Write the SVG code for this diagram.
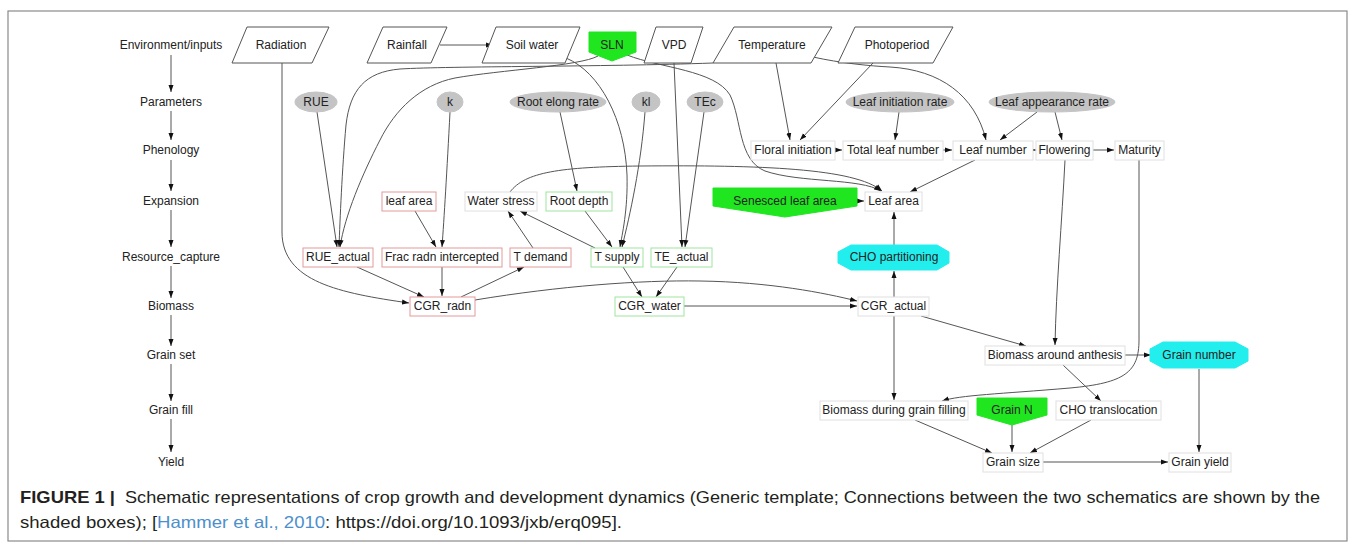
<svg xmlns="http://www.w3.org/2000/svg" width="1355" height="552" viewBox="0 0 1355 552">
<style>
text{font-family:"Liberation Sans",Arial,sans-serif}
.t{font-size:12px;fill:#222;text-anchor:middle}
.e{fill:none;stroke:#555;stroke-width:1;marker-end:url(#ah)}
.red{fill:#fff;stroke:#e39a9a;stroke-width:1}
.grn{fill:#fff;stroke:#9ee39e;stroke-width:1}
.lg{fill:#fff;stroke:#e0e0e0;stroke-width:1}
.par{fill:#fff;stroke:#555;stroke-width:1}
.ell{fill:#c4c4c4;stroke:#c4c4c4}
.gf{fill:#1fe61f;stroke:#1fe61f}
.cf{fill:#22eeee;stroke:#22eeee}
.cap{font-size:16.5px;fill:#231f20}
</style>
<defs>
<marker id="ah" markerUnits="userSpaceOnUse" markerWidth="7" markerHeight="6" refX="7" refY="3" orient="auto">
<path d="M0,0.5 L7,3 L0,5.5 z" fill="#111"/>
</marker>
</defs>
<rect x="0" y="0" width="1355" height="552" fill="#fff"/>
<rect x="8" y="11" width="1339" height="530" fill="none" stroke="#8a8a8a" stroke-width="1.2"/>

<g id="rows">
<text class="t" x="171" y="49">Environment/inputs</text>
<text class="t" x="171" y="106">Parameters</text>
<text class="t" x="171" y="154">Phenology</text>
<text class="t" x="171" y="205">Expansion</text>
<text class="t" x="171" y="261">Resource_capture</text>
<text class="t" x="171" y="310">Biomass</text>
<text class="t" x="171" y="359">Grain set</text>
<text class="t" x="171" y="414">Grain fill</text>
<text class="t" x="171" y="466">Yield</text>
</g>

<g id="connectors">
<path class="e" d="M171,55 V92"/>
<path class="e" d="M171,111 V140"/>
<path class="e" d="M171,160 V191"/>
<path class="e" d="M171,210 V247"/>
<path class="e" d="M171,266 V298"/>
<path class="e" d="M171,315 V346"/>
<path class="e" d="M171,364 V401"/>
<path class="e" d="M171,419 V452"/>

<path class="e" d="M440,45 H493"/>
<path class="e" d="M282,63 V232 C282,282 340,293 409,303"/>
<path class="e" d="M713,63 C600,67 450,66 400,69 C365,72 350,90 346,125 C342,170 340,220 339,247"/>
<path class="e" d="M598,56 C580,66 500,70 455,78 C420,85 395,110 380,140 C362,175 345,215 340,247"/>
<path class="e" d="M566,58 C600,72 625,120 627,175 C628,210 622,235 620,247"/>
<path class="e" d="M645,112 C641,165 630,215 622,247"/>
<path class="e" d="M674,63 L682,247"/>
<path class="e" d="M704,112 L685,247"/>
<path class="e" d="M627,55 C660,68 715,70 730,95 C742,120 738,160 765,171 C800,183 860,178 881,191"/>
<path class="e" d="M510,192 C525,172 560,167 640,166 C760,165 855,168 882,191"/>
<path class="e" d="M975,160 L910,192"/>
<path class="e" d="M776,63 L790,140"/>
<path class="e" d="M873,63 L800,140"/>
<path class="e" d="M813,57 C840,63 870,66 890,67 C940,70 975,95 986,140"/>
<path class="e" d="M899,112 L895,140"/>
<path class="e" d="M1037,112 L1000,140"/>
<path class="e" d="M1055,112 L1062,140"/>
<path class="e" d="M835,150 H842"/>
<path class="e" d="M943,150 H952"/>
<path class="e" d="M1030,150 H1036"/>
<path class="e" d="M1093,150 H1114"/>
<path class="e" d="M1065,160 C1062,220 1056,290 1055,345"/>
<path class="e" d="M1139,160 V340 C1139,372 1125,383 1070,388 C1000,394 960,395 942,401"/>
<path class="e" d="M317,112 L337,247"/>
<path class="e" d="M450,112 C447,170 444,220 442,247"/>
<path class="e" d="M415,211 L436,247"/>
<path class="e" d="M560,112 L577,191"/>
<path class="e" d="M533,248 L508,211"/>
<path class="e" d="M595,248 L520,211"/>
<path class="e" d="M585,211 L612,247"/>
<path class="e" d="M357,267 L424,297"/>
<path class="e" d="M442,267 V296"/>
<path class="e" d="M461,297 L524,267"/>
<path class="e" d="M475,300 C560,286 640,280 700,281 C770,282 825,293 857,301"/>
<path class="e" d="M623,267 L642,297"/>
<path class="e" d="M677,267 L656,297"/>
<path class="e" d="M684,306 H857"/>
<path class="e" d="M894,297 V271"/>
<path class="e" d="M894,245 V212"/>
<path class="e" d="M857,201 H864"/>
<path class="e" d="M921,316 L1026,346"/>
<path class="e" d="M894,316 V400"/>
<path class="e" d="M1125,355 H1151"/>
<path class="e" d="M1063,365 L1101,401"/>
<path class="e" d="M1199,369 V452"/>
<path class="e" d="M915,420 L992,453"/>
<path class="e" d="M1012,425 V452"/>
<path class="e" d="M1091,420 L1030,453"/>
<path class="e" d="M1043,462 H1168"/>
</g>

<g id="radiation"><polygon class="par" points="247,27 329,27 312,63 232,63"/><text class="t" x="281" y="49">Radiation</text></g>
<g id="rainfall"><polygon class="par" points="383,27 447,27 431,63 367,63"/><text class="t" x="407" y="49">Rainfall</text></g>
<g id="soilwater"><polygon class="par" points="496,27 580,27 565,63 482,63"/><text class="t" x="532" y="49">Soil water</text></g>
<g id="sln"><polygon class="gf" points="589,32 636,32 636,52 612,61 589,52"/><text class="t" x="612" y="49">SLN</text></g>
<g id="vpd"><polygon class="par" points="656,27 703,27 691,63 644,63"/><text class="t" x="674" y="49">VPD</text></g>
<g id="temperature"><polygon class="par" points="734,27 832,27 811,63 713,63"/><text class="t" x="772" y="49">Temperature</text></g>
<g id="photoperiod"><polygon class="par" points="855,27 953,27 933,63 838,63"/><text class="t" x="897" y="49">Photoperiod</text></g>

<g id="rue"><ellipse class="ell" cx="316" cy="102" rx="21" ry="10"/><text class="t" x="316" y="106">RUE</text></g>
<g id="k"><ellipse class="ell" cx="450" cy="102" rx="13" ry="10"/><text class="t" x="450" y="106">k</text></g>
<g id="rootelong"><ellipse class="ell" cx="558" cy="102" rx="48" ry="10"/><text class="t" x="558" y="106">Root elong rate</text></g>
<g id="kl"><ellipse class="ell" cx="646" cy="102" rx="14" ry="10"/><text class="t" x="646" y="106">kl</text></g>
<g id="tec"><ellipse class="ell" cx="705" cy="102" rx="18" ry="10"/><text class="t" x="705" y="106">TEc</text></g>
<g id="leafinit"><ellipse class="ell" cx="900" cy="102" rx="54" ry="10"/><text class="t" x="900" y="106">Leaf initiation rate</text></g>
<g id="leafapp"><ellipse class="ell" cx="1052" cy="102" rx="63" ry="10"/><text class="t" x="1052" y="106">Leaf appearance rate</text></g>

<g id="floral"><rect class="lg" x="751" y="141" width="84" height="19"/><text class="t" x="793" y="154">Floral initiation</text></g>
<g id="totalleaf"><rect class="lg" x="843" y="141" width="100" height="19"/><text class="t" x="893" y="154">Total leaf number</text></g>
<g id="leafnumber"><rect class="lg" x="953" y="141" width="80" height="19"/><text class="t" x="993" y="154">Leaf number</text></g>
<g id="flowering"><rect class="lg" x="1036" y="141" width="57" height="19"/><text class="t" x="1064.5" y="154">Flowering</text></g>
<g id="maturity"><rect class="lg" x="1115" y="141" width="49" height="19"/><text class="t" x="1139.5" y="154">Maturity</text></g>

<g id="leafarea-red"><rect class="red" x="382" y="192" width="54" height="19"/><text class="t" x="409" y="205">leaf area</text></g>
<g id="waterstress"><rect class="lg" x="465" y="192" width="72" height="19"/><text class="t" x="501" y="205">Water stress</text></g>
<g id="rootdepth"><rect class="grn" x="546" y="192" width="66" height="19"/><text class="t" x="579" y="205">Root depth</text></g>
<g id="senesced"><polygon class="gf" points="713,188 857,188 857,206 785,217 713,206"/><text class="t" x="785" y="205">Senesced leaf area</text></g>
<g id="leafarea"><rect class="lg" x="865" y="192" width="57" height="19"/><text class="t" x="893.5" y="205">Leaf area</text></g>

<g id="rueactual"><rect class="red" x="303" y="248" width="70" height="19"/><text class="t" x="338" y="261">RUE_actual</text></g>
<g id="fracradn"><rect class="red" x="382" y="248" width="120" height="19"/><text class="t" x="442" y="261">Frac radn intercepted</text></g>
<g id="tdemand"><rect class="red" x="510" y="248" width="61" height="19"/><text class="t" x="540.5" y="261">T demand</text></g>
<g id="tsupply"><rect class="grn" x="591" y="248" width="52" height="19"/><text class="t" x="617" y="261">T supply</text></g>
<g id="teactual"><rect class="grn" x="651" y="248" width="61" height="19"/><text class="t" x="681.5" y="261">TE_actual</text></g>
<g id="chopart"><polygon class="cf" points="851,245 937,245 949,252 949,263 937,270 851,270 838,263 838,252"/><text class="t" x="894" y="261">CHO partitioning</text></g>

<g id="cgrradn"><rect class="red" x="410" y="297" width="65" height="19"/><text class="t" x="442.5" y="310">CGR_radn</text></g>
<g id="cgrwater"><rect class="grn" x="615" y="297" width="69" height="19"/><text class="t" x="649.5" y="310">CGR_water</text></g>
<g id="cgractual"><rect class="lg" x="858" y="297" width="71" height="19"/><text class="t" x="893.5" y="310">CGR_actual</text></g>

<g id="biomassanthesis"><rect class="lg" x="985" y="346" width="140" height="19"/><text class="t" x="1055" y="359">Biomass around anthesis</text></g>
<g id="grainnumber"><polygon class="cf" points="1163,342 1235,342 1248,349 1248,361 1235,368 1163,368 1150,361 1150,349"/><text class="t" x="1199" y="359">Grain number</text></g>

<g id="biomassfill"><rect class="lg" x="820" y="401" width="148" height="19"/><text class="t" x="894" y="414">Biomass during grain filling</text></g>
<g id="grainn"><polygon class="gf" points="977,398 1047,398 1047,415 1012,425 977,415"/><text class="t" x="1012" y="414">Grain N</text></g>
<g id="chotrans"><rect class="lg" x="1056" y="401" width="105" height="19"/><text class="t" x="1108.5" y="414">CHO translocation</text></g>

<g id="grainsize"><rect class="lg" x="983" y="453" width="60" height="19"/><text class="t" x="1013" y="466">Grain size</text></g>
<g id="grainyield"><rect class="lg" x="1169" y="453" width="62" height="19"/><text class="t" x="1200" y="466">Grain yield</text></g>

<g id="caption">
<text class="cap" x="20" y="503" font-weight="bold" textLength="95" lengthAdjust="spacingAndGlyphs">FIGURE 1 |</text>
<text class="cap" x="125" y="503" textLength="1195" lengthAdjust="spacingAndGlyphs">Schematic representations of crop growth and development dynamics (Generic template; Connections between the two schematics are shown by the</text>
<text class="cap" x="20" y="528" textLength="602" lengthAdjust="spacingAndGlyphs">shaded boxes); [<tspan fill="#4d8fcc">Hammer et al., 2010</tspan>: https://doi.org/10.1093/jxb/erq095].</text>
</g>
</svg>
